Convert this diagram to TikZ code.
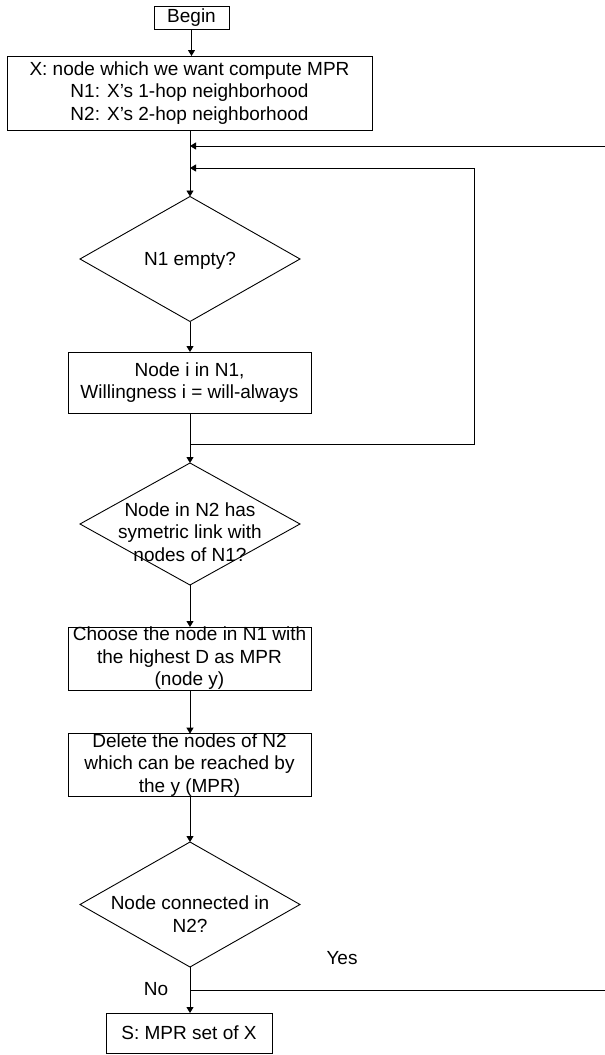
\documentclass[tikz,border=0pt]{standalone}
\usepackage{fontspec}
\setmainfont{Liberation Sans}
\usetikzlibrary{shapes.geometric,arrows.meta}
\begin{document}
\begin{tikzpicture}[x=1pt,y=-1pt,
  txt/.style={font=\fontsize{19}{22.5}\selectfont},
  box/.style={draw,line width=0.9pt,inner sep=0pt,outer sep=0pt,align=center,txt},
  dia/.style={draw,diamond,line width=0.9pt,inner sep=0pt,outer sep=0pt,minimum width=220pt},
  dtext/.style={align=center,inner sep=0pt,txt},
  ln/.style={line width=0.9pt},
  arr/.style={line width=0.9pt,-{Triangle[length=6pt,width=7pt]}}]
\useasboundingbox (0,0) rectangle (605,1055);

\node[box,minimum width=75pt,minimum height=23pt] (begin) at (191.5,17.5) {Begin};
\node[box,minimum width=365pt,minimum height=74pt] (main) at (189.5,93)
  {X: node which we want compute MPR\\N1: X’s 1-hop neighborhood\\N2: X’s 2-hop neighborhood};
\node[dia,minimum height=125pt] (d1) at (190,259) {};
\node[dtext] (d1t) at (190,261) {N1 empty?};
\node[box,minimum width=243pt,minimum height=61pt] (b2) at (189.5,382.5)
  {Node i in N1,\\Willingness i = will-always};
\node[dia,minimum height=122pt] (d2) at (190,524) {};
\node[dtext] (d2t) at (190,532) {Node in N2 has\\symetric link with\\nodes of N1?};
\node[box,minimum width=243pt,minimum height=63pt] (b3) at (189.5,658.5)
  {Choose the node in N1 with\\the highest D as MPR\\(node y)};
\node[box,minimum width=243pt,minimum height=62pt] (b4) at (189.5,765)
  {Delete the nodes of N2\\which can be reached by\\the y (MPR)};
\node[dia,minimum height=125pt] (d3) at (190,904.5) {};
\node[dtext] (d3t) at (190,914) {Node connected in\\N2?};
\node[box,minimum width=166pt,minimum height=40pt] (s) at (189,1033) {S: MPR set of X};

\node[txt,inner sep=0pt] (no) at (156,989) {No};
\node[txt,inner sep=0pt] (yes) at (342,958) {Yes};

\coordinate (r1) at (605,146);
\coordinate (m1) at (190,146);
\coordinate (m2) at (190,168);
\coordinate (j2) at (190,444);
\coordinate (c2) at (474,168);
\coordinate (y0) at (191,990);
\coordinate (y1) at (605,990);

\draw[arr] (begin.south) -- (main.north -| begin.south);
\draw[arr] (main.south -| d1.north) -- (d1.north);
\draw[arr] (r1) -- (m1);
\draw[ln] (j2) -| (c2);
\draw[arr] (c2) -- (m2);
\draw[arr] (d1.south) -- (b2.north -| d1.south);
\draw[arr] (b2.south -| d2.north) -- (d2.north);
\draw[arr] (d2.south) -- (b3.north -| d2.south);
\draw[arr] (b3.south -| d2.south) -- (b4.north -| d2.south);
\draw[arr] (b4.south -| d3.north) -- (d3.north);
\draw[arr] (d3.south) -- (s.north -| d3.south);
\draw[ln] (y0) -- (y1);
\end{tikzpicture}
\end{document}
